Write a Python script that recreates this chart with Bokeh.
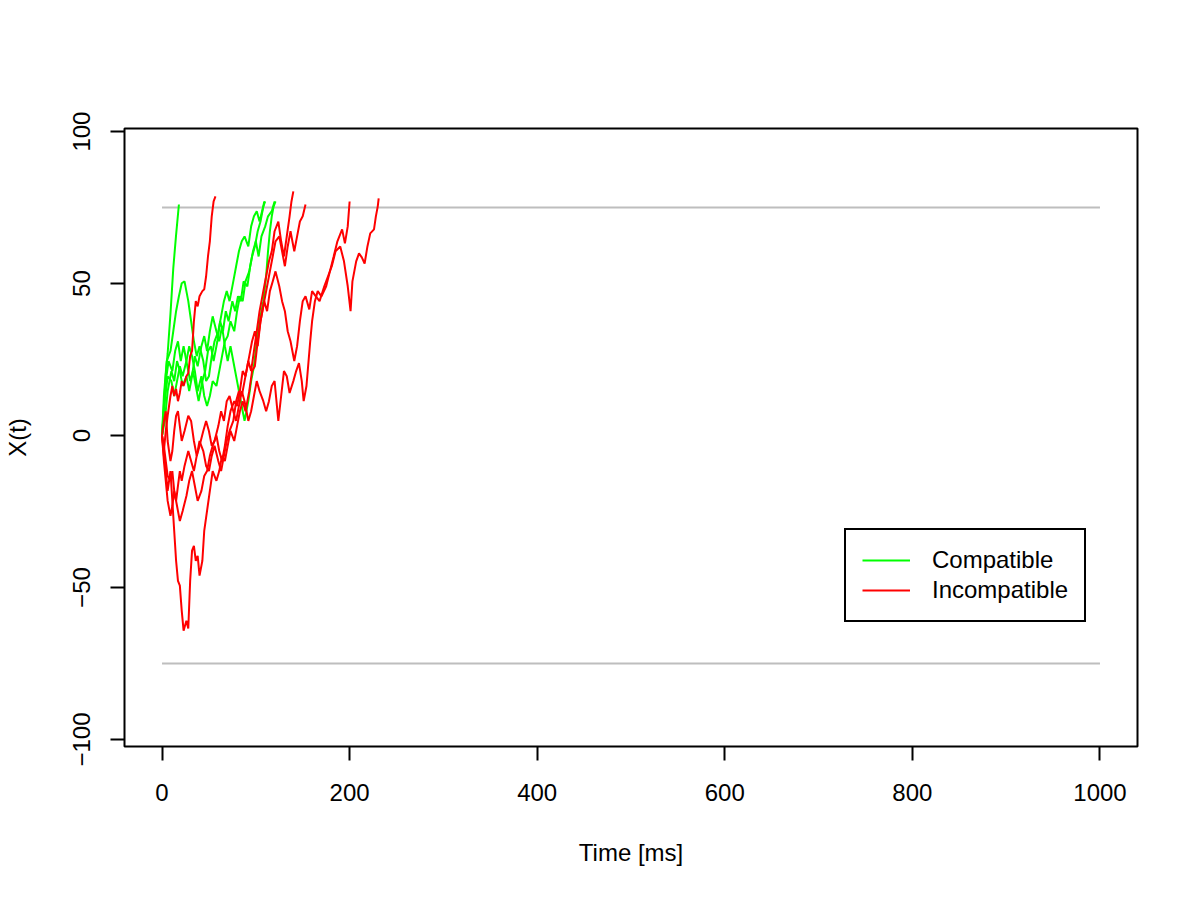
from bokeh.plotting import figure
from bokeh.models import FixedTicker, Legend, LegendItem
from bokeh.embed import file_html
from bokeh.resources import INLINE

# ---------------- data ----------------
boundary = 75
t_max = 1000

x_ticks = [0, 200, 400, 600, 800, 1000]
y_ticks = [-100, -50, 0, 50, 100]
y_tick_labels = {-100: "\u2212100", -50: "\u221250", 0: "0", 50: "50", 100: "100"}

legend_labels = ["Compatible", "Incompatible"]

# compatible trials (time in ms, X(t))
comp_t1 = [0, 2, 4, 6, 9, 12, 15, 18]
comp_x1 = [0, 10, 20, 27, 40, 55, 66, 76]

comp_t2 = [0, 2, 5, 9, 12, 15, 18, 21, 24, 28, 31, 34, 37, 40, 44, 47, 50, 53, 56, 60,
           63, 66, 69, 72, 76, 79, 82, 85, 88, 92, 95, 98, 101, 104, 108, 110]
comp_x2 = [0, 13, 24.5, 27.8, 34.3, 40.9, 45.8, 50.1, 50.7, 44.2, 37.6, 31.0, 26.1, 29.4, 24.5,
           17.9, 19.5, 26.1, 31.0, 34.3, 39.2, 44.2, 47.5, 44.2, 50.7, 55.7, 60.6, 63.9, 65.5,
           62.2, 68.8, 72.1, 73.8, 70.4, 75.4, 77.0]

comp_t3 = [0, 2, 4, 7, 11, 14, 17, 20, 23, 27, 30, 33, 36, 39, 43, 46, 49, 52, 55, 59,
           62, 65, 68, 71, 75, 78, 81, 84, 87, 91, 94, 97, 100, 103, 106, 110, 113, 117, 120]
comp_x3 = [0, 8.0, 17.9, 24.5, 21.2, 27.8, 31.0, 24.5, 29.4, 22.8, 17.9, 21.2, 16.3, 11.3,
           17.9, 21.2, 27.8, 29.4, 24.5, 31.0, 37.6, 34.3, 40.9, 37.6, 44.2, 40.9, 45.8, 44.2,
           50.7, 49.1, 55.7, 60.6, 63.9, 58.9, 65.5, 68.8, 72.1, 73.8, 77.0]

comp_t4 = [0, 3, 6, 10, 13, 16, 19, 22, 26, 29, 32, 35, 38, 42, 45, 48, 51, 54, 58, 61,
           64, 67, 70, 73, 77, 80, 83, 86, 88, 92, 95, 98, 101, 104, 108, 111, 113, 115,
           117, 119, 121]
comp_x4 = [0, 4.8, 14.6, 21.2, 17.9, 24.5, 21.2, 16.3, 19.5, 14.6, 19.5, 26.1, 22.8, 29.4,
           32.7, 27.8, 34.3, 39.2, 34.3, 31.0, 35.9, 29.4, 24.5, 29.4, 22.8, 17.9, 13.0, 8.0,
           4.8, 11.3, 17.9, 22.8, 31.0, 37.6, 44.2, 52.4, 60.6, 67.2, 72.1, 75.4, 77.0]

comp_t5 = [0, 3, 6, 10, 13, 16, 19, 22, 26, 29, 32, 35, 38, 42, 45, 48, 51, 54, 58, 61,
           64, 67, 70, 73, 77, 80, 83, 86, 89, 93, 96, 99, 102, 105, 109]
comp_x5 = [0, 11.3, 19.5, 17.9, 13.0, 17.9, 22.8, 19.5, 24.5, 29.4, 26.1, 21.2, 14.6, 19.5,
           13.0, 9.7, 13.0, 17.9, 16.3, 21.2, 26.1, 31.0, 32.7, 37.6, 34.3, 40.9, 45.8, 44.2,
           50.7, 54.0, 58.9, 62.2, 67.2, 70.4, 77.0]

# incompatible trials
incomp_t1 = [0, 2, 4, 6, 9, 11, 13, 15, 17, 19, 21, 23, 26, 28, 30, 32, 34, 36, 38, 40,
             43, 45, 47, 49, 51, 53, 55, 57]
incomp_x1 = [0, -5.1, 1.5, 6.5, 13.0, 16.3, 13.0, 15.3, 11.3, 14.0, 17.9, 16.3, 19.5, 20.5,
             26.1, 27.8, 37.6, 44.2, 42.5, 45.8, 47.5, 48.1, 52.4, 58.9, 63.9, 72.1, 77.0, 78.7]

incomp_t2 = [0, 2, 4, 6, 9, 11, 13, 15, 17, 19, 21, 23, 26, 28, 30, 32, 34, 36, 38, 40,
             43, 45, 48, 51, 54, 58, 61, 64, 67, 70, 73, 77, 80, 83, 86, 89, 93, 96, 99, 102,
             105, 109, 112, 115, 118, 121, 125, 128, 131, 134, 137, 141, 144, 147, 150, 153]
incomp_x2 = [0, -6.7, -11.7, -18.2, -11.7, -21.5, -31.4, -41.2, -47.8, -49.4, -57.6, -64.2,
             -60.9, -63.5, -47.8, -37.9, -36.3, -41.2, -39.6, -46.1, -41.2, -31.4, -24.8,
             -18.2, -11.7, -14.9, -11.7, -6.7, -8.4, -3.4, 1.5, -1.8, 3.1, 8.0, 11.3, 8.0,
             14.6, 21.2, 22.8, 31.0, 37.6, 44.2, 49.1, 54.0, 58.9, 63.9, 65.5, 60.6, 55.7,
             62.2, 67.2, 60.6, 65.5, 70.4, 72.1, 76.0]

incomp_t3 = [0, 2, 4, 6, 9, 11, 13, 15, 17, 19, 21, 24, 28, 31, 34, 37, 40, 44, 47, 50,
             53, 56, 60, 63, 66, 69, 72, 76, 79, 82, 85, 88, 92, 95, 98, 101, 104, 108, 111,
             114, 117, 120, 124, 127, 130, 133, 136, 138, 140]
incomp_x3 = [0, -3.4, -8.4, -13.3, -14.9, -11.7, -18.2, -21.5, -16.6, -11.7, -14.9, -10.0,
             -5.1, -8.4, -11.7, -6.7, -1.8, -5.1, -10.0, -11.7, -6.7, -3.4, -8.4, -11.7, -6.7,
             -1.8, 1.5, 4.8, 11.3, 14.6, 13.0, 17.9, 24.5, 21.2, 27.8, 34.3, 40.9, 47.5, 52.4,
             57.3, 60.6, 67.2, 70.4, 63.9, 58.9, 65.5, 72.1, 77.0, 80.3]

incomp_t4 = [0, 2, 4, 6, 9, 11, 13, 15, 17, 19, 21, 24, 28, 31, 34, 37, 40, 44, 47, 50,
             53, 56, 60, 63, 66, 69, 72, 76, 79, 82, 85, 88, 92, 95, 98, 101, 104, 108, 111,
             114, 117, 120, 124, 127, 130, 133, 136, 140, 143, 146, 149, 151, 154, 158, 160,
             163, 166, 170, 175, 179, 183, 187, 192, 195, 198, 200]
incomp_x4 = [0, 4.8, 8.0, -1.8, -8.4, -5.1, 1.5, 6.5, 8.0, 3.1, -1.8, 1.5, 6.5, 4.8, -1.8,
             -6.7, -3.4, 1.5, 4.8, 1.5, -3.4, -1.8, 3.1, 8.0, 4.8, 11.3, 13.0, 8.0, 4.8, 9.7,
             14.6, 11.3, 4.8, 8.0, 13.0, 17.9, 14.6, 11.3, 8.0, 11.3, 16.3, 17.9, 4.8, 13.0,
             21.2, 19.5, 14.0, 17.9, 21.2, 23.8, 17.9, 11.3, 16.3, 31.0, 37.6, 44.2, 47.5,
             45.8, 49.1, 54.0, 58.9, 63.9, 67.8, 63.2, 68.8, 77.0]

incomp_t5 = [0, 2, 4, 6, 9, 11, 13, 16, 19, 22, 26, 29, 32, 35, 38, 42, 45, 48, 51, 54,
             58, 61, 64, 67, 70, 73, 77, 80, 83, 86, 89, 93, 96, 99, 102, 105, 109, 112, 115,
             118, 121, 125, 128, 131, 134, 137, 141, 144, 147, 150, 153, 157, 160, 164, 168,
             173, 177, 181, 185, 190, 194, 198, 201, 203, 207, 210, 213, 216, 219, 222, 226,
             228, 230, 231]
incomp_x5 = [0, -8.4, -14.9, -21.5, -26.4, -23.2, -18.2, -23.2, -28.1, -24.8, -19.9, -14.9,
             -11.7, -16.6, -21.5, -18.2, -13.3, -11.7, -6.7, -3.4, 0, -5.1, -8.4, -3.4, 3.1,
             8.0, 11.3, 9.7, 14.6, 21.2, 19.5, 26.1, 31.0, 34.3, 29.4, 37.6, 44.2, 40.9, 47.5,
             50.7, 54.0, 49.1, 44.2, 40.9, 34.3, 31.0, 24.5, 29.4, 37.6, 44.2, 45.8, 41.5, 47.5,
             45.8, 44.2, 49.1, 52.4, 55.7, 60.6, 62.2, 57.3, 49.1, 40.9, 50.7, 57.3, 59.9, 58.6,
             56.6, 62.2, 66.5, 67.8, 72.1, 75.4, 78.0]

comp_ts = [comp_t1, comp_t2, comp_t3, comp_t4, comp_t5]
comp_xs = [comp_x1, comp_x2, comp_x3, comp_x4, comp_x5]
incomp_ts = [incomp_t1, incomp_t2, incomp_t3, incomp_t4, incomp_t5]
incomp_xs = [incomp_x1, incomp_x2, incomp_x3, incomp_x4, incomp_x5]

# ---------------- figure ----------------
FONT = "Liberation Sans"
FS = "24px"

p = figure(width=1192, height=893, output_backend="svg", toolbar_location=None,
           x_range=(-40, 1040), y_range=(-102.3, 101.0),
           min_border_left=123, min_border_right=55, min_border_top=128,
           min_border_bottom=147)
p.grid.visible = False
p.outline_line_color = "black"
p.outline_line_width = 2
p.outline_line_alpha = 1.0
p.background_fill_color = "white"
p.border_fill_color = "white"

p.segment(x0=[0, 0], x1=[t_max, t_max], y0=[boundary, -boundary], y1=[boundary, -boundary],
          line_color="#bebebe", line_width=2)

r_comp = p.multi_line(xs=comp_ts, ys=comp_xs, line_color="#00ff00", line_width=2)
r_incomp = p.multi_line(xs=incomp_ts, ys=incomp_xs, line_color="#ff0000", line_width=2)

for ax in (p.xaxis[0], p.yaxis[0]):
    ax.axis_line_color = None
    ax.major_tick_line_color = "black"
    ax.major_tick_line_width = 2
    ax.major_tick_in = 0
    ax.major_tick_out = 14
    ax.minor_tick_line_color = None
    ax.major_label_text_font = FONT
    ax.major_label_text_font_size = FS
    ax.major_label_text_color = "black"
    ax.axis_label_text_font = FONT
    ax.axis_label_text_font_size = FS
    ax.axis_label_text_font_style = "normal"
    ax.axis_label_text_color = "black"

p.xaxis.ticker = FixedTicker(ticks=x_ticks)
p.yaxis.ticker = FixedTicker(ticks=y_ticks)
p.yaxis.major_label_overrides = y_tick_labels
p.yaxis.major_label_orientation = "parallel"
p.xaxis.axis_label = "Time [ms]"
p.yaxis.axis_label = "X(t)"
p.xaxis.major_label_standoff = 23
p.xaxis.axis_label_standoff = 35
p.yaxis.major_label_standoff = 20
p.yaxis.axis_label_standoff = 40

legend = Legend(items=[LegendItem(label=legend_labels[0], renderers=[r_comp]),
                       LegendItem(label=legend_labels[1], renderers=[r_incomp])],
                location=(720, 124))
legend.label_text_font = FONT
legend.label_text_font_size = FS
legend.label_text_color = "black"
legend.glyph_width = 48
legend.glyph_height = 20
legend.label_height = 20
legend.label_standoff = 22
legend.spacing = 2
legend.padding = 16
legend.margin = 0
legend.border_line_color = "black"
legend.border_line_width = 2
legend.border_line_alpha = 1.0
legend.background_fill_color = "white"
legend.background_fill_alpha = 1.0
p.add_layout(legend, "center")

open("out.html", "w").write(file_html(p, INLINE))
